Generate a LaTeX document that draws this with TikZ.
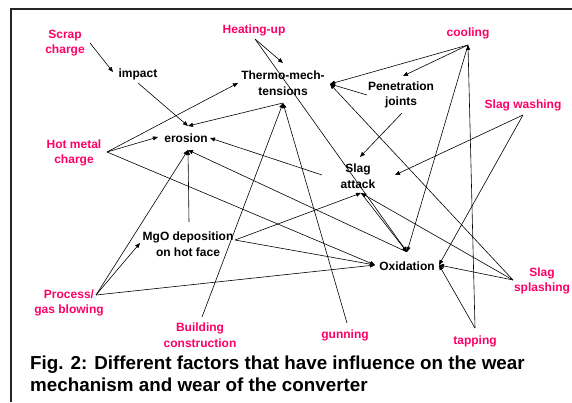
\documentclass[tikz,border=0pt]{standalone}
\usepackage{fontspec}
\setmainfont{Liberation Sans}
\usetikzlibrary{arrows.meta}
\definecolor{factorpink}{RGB}{255,0,102}
\begin{document}
\begin{tikzpicture}[x=1pt,y=-1pt,
    fac/.style={text=factorpink,font=\bfseries\fontsize{12}{15.5}\selectfont,align=center,inner sep=0pt},
    mech/.style={font=\bfseries\fontsize{12}{15.5}\selectfont,align=center,inner sep=0pt},
    arr/.style={-{Triangle[length=5pt,width=4pt]},line width=0.6pt}]
\useasboundingbox (0,0) rectangle (572,402);
\draw[line width=2pt,black!85] (572,8.5) -| (11,402);
    \node[fac] (scrap) at (65,43) {Scrap\\charge};
    \node[fac] (heating) at (254,30) {Heating-up};
    \node[fac] (cooling) at (468,33) {cooling};
    \node[fac] (washing) at (523,105) {Slag washing};
    \node[fac] (hotmetal) at (74,153) {Hot metal\\charge};
    \node[fac] (process) at (69,303) {Process/\\gas blowing};
    \node[fac] (building) at (200,335) {Building\\construction};
    \node[fac] (gunning) at (345,335) {gunning};
    \node[fac] (tapping) at (475,341) {tapping};
    \node[fac] (splashing) at (542,281) {Slag\\splashing};
    \node[mech] (impact) at (138,74) {impact};
    \node[mech] (thermo) at (283,83) {Thermo-mech-\\tensions};
    \node[mech] (pen) at (401,95) {Penetration\\joints};
    \node[mech] (erosion) at (186,138) {erosion};
    \node[mech] (slag) at (358,176) {Slag\\attack};
    \node[mech] (mgo) at (188,244) {MgO deposition\\on hot face};
    \node[mech] (oxid) at (407,266) {Oxidation};
    \node[anchor=west,align=left,inner sep=0pt,font=\bfseries\fontsize{18.8}{22}\selectfont] (caption) at (30,374)
        {Fig. 2: Different factors that have influence on the wear\\mechanism and wear of the converter};
    \coordinate (scrapE) at (90,43);
    \coordinate (impactW) at (113,72);
    \coordinate (impactS) at (138,83);
    \coordinate (heatingS) at (255,39);
    \coordinate (coolingS) at (468,45);
    \coordinate (washingS) at (523,115);
    \coordinate (hotmetalE) at (107,152);
    \coordinate (processE) at (96,295);
    \coordinate (buildingN) at (202,317);
    \coordinate (gunningN) at (347,323);
    \coordinate (tappingN) at (475,328);
    \coordinate (splashingW) at (513,280);
    \coordinate (thermoN) at (283,63);
    \coordinate (thermoW) at (238,83);
    \coordinate (thermoE) at (330,84);
    \coordinate (thermoS) at (283,103);
    \coordinate (penW) at (367,95);
    \coordinate (penN) at (403,76);
    \coordinate (penS) at (402,113);
    \coordinate (erosionN) at (188,126);
    \coordinate (erosionW) at (158,137);
    \coordinate (erosionE) at (210,138);
    \coordinate (erosionS) at (188,150);
    \coordinate (slagN) at (360,157);
    \coordinate (slagW) at (322,175);
    \coordinate (slagE) at (395,175);
    \coordinate (slagS) at (361,193);
    \coordinate (mgoN) at (189,222);
    \coordinate (mgoW) at (140,243);
    \coordinate (mgoE) at (235,240);
    \coordinate (oxidN) at (407,252);
    \coordinate (oxidW) at (375,265);
    \coordinate (oxidE) at (439,265);
    \draw[arr] (scrapE) -- (impactW);
    \draw[arr] (impactS) -- (erosionN);
    \draw[arr] (heatingS) -- (thermoN);
    \draw[arr] (heatingS) -- (oxidN);
    \foreach \t in {thermoE,penN,oxidN}
    \draw[arr] (coolingS) -- (\t);
    \draw[arr] (tappingN) -- (coolingS);
    \draw[arr] (penW) -- (thermoE);
    \draw[arr] (penS) -- (slagN);
    \draw[arr] (washingS) -- (slagE);
    \draw[arr] (washingS) -- (oxidE);
    \draw[arr] (slagW) -- (erosionE);
    \draw[arr] (slagS) -- (oxidN);
    \foreach \t in {thermoE,slagS,oxidE}
    \draw[arr] (splashingW) -- (\t);
    \draw[arr] (tappingN) -- (oxidE);
    \draw[arr] (gunningN) -- (thermoS);
    \draw[arr] (buildingN) -- (thermoS);
    \draw[arr,{Triangle[length=5pt,width=4pt]}-] (erosionN) -- (thermoS);
    \foreach \t in {thermoW,erosionW,oxidW}
    \draw[arr] (hotmetalE) -- (\t);
    \foreach \t in {erosionS,mgoW,oxidW}
    \draw[arr] (processE) -- (\t);
    \draw[arr] (mgoN) -- (erosionS);
    \draw[arr] (mgoE) -- (slagS);
    \draw[arr] (mgoE) -- (oxidW);
    \draw[arr] (oxidN) -- (erosionS);
\end{tikzpicture}
\end{document}
